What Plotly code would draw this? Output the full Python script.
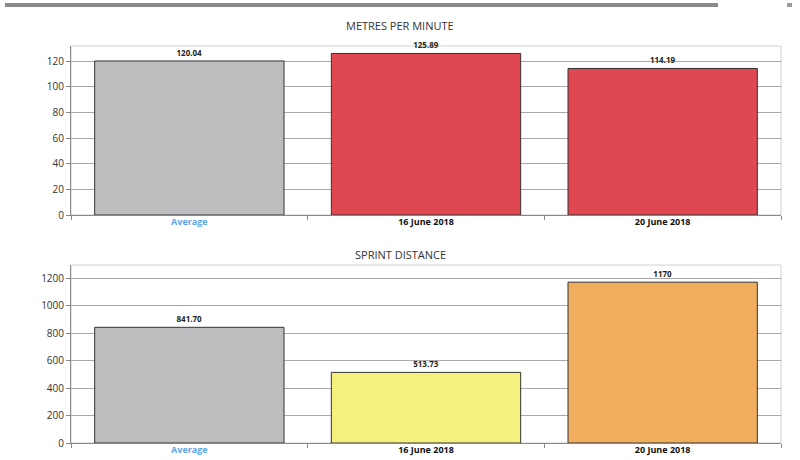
import plotly.graph_objects as go

categories = ["Average", "16 June 2018", "20 June 2018"]
mpm_values = [120.04, 125.89, 114.19]
mpm_labels = ["120.04", "125.89", "114.19"]
mpm_colors = ["#bdbcbf", "#df4850", "#df4850"]
sprint_values = [841.70, 513.73, 1170]
sprint_labels = ["841.70", "513.73", "1170"]
sprint_colors = ["#bdbcbf", "#f6f17f", "#f2ae5f"]
tick_text = ['<b><span style="color:#5aa7e8">Average</span></b>', "<b>16 June 2018</b>", "<b>20 June 2018</b>"]
mpm_ticks = [0, 20, 40, 60, 80, 100, 120]
sprint_ticks = [0, 200, 400, 600, 800, 1000, 1200]

FONT = "Open Sans"
fig = go.Figure()

fig.add_trace(go.Bar(x=categories, y=mpm_values, text=mpm_labels, textposition="outside",
                     marker=dict(color=mpm_colors, line=dict(color="#333", width=1)),
                     textfont=dict(size=8, color="#222", family=FONT, weight="bold"),
                     cliponaxis=False, xaxis="x", yaxis="y", width=0.8))
fig.add_trace(go.Bar(x=categories, y=sprint_values, text=sprint_labels, textposition="outside",
                     marker=dict(color=sprint_colors, line=dict(color="#333", width=1)),
                     textfont=dict(size=8, color="#222", family=FONT, weight="bold"),
                     cliponaxis=False, xaxis="x2", yaxis="y2", width=0.8))

xd = [71 / 800, 781 / 800]
top_dom = [1 - 215 / 460, 1 - 46 / 460]
bot_dom = [1 - 443 / 460, 1 - 265 / 460]

xcommon = dict(type="category", domain=xd, ticks="outside", tickson="boundaries", ticklen=4,
               tickcolor="#888", showline=True, linecolor="#888", linewidth=1,
               tickvals=categories, ticktext=tick_text, automargin=False, ticklabelstandoff=-2,
               tickfont=dict(size=9, color="#111", family=FONT), showgrid=False, fixedrange=True)
ycommon = dict(ticks="outside", ticklen=4, tickcolor="#888", showline=True, linecolor="#888",
               linewidth=1, showgrid=True, gridcolor="#a9a9a9", gridwidth=1, zeroline=False,
               automargin=False,
               tickfont=dict(size=10, color="#333", family=FONT), fixedrange=True)

fig.update_layout(
    width=800, height=460, margin=dict(l=0, r=0, t=0, b=0),
    paper_bgcolor="white", plot_bgcolor="white", showlegend=False, bargap=0.2,
    font=dict(family=FONT),
    xaxis=dict(**xcommon, anchor="y"),
    yaxis=dict(**ycommon, domain=top_dom, range=[0, 131.7], tickvals=mpm_ticks, anchor="x"),
    xaxis2=dict(**xcommon, anchor="y2"),
    yaxis2=dict(**ycommon, domain=bot_dom, range=[0, 1295], tickvals=sprint_ticks, anchor="x2"),
    annotations=[
        dict(text="METRES PER MINUTE", x=400 / 800, y=1 - 25 / 460, xref="paper", yref="paper",
             yanchor="middle", showarrow=False, font=dict(size=11, color="#333", family=FONT)),
        dict(text="SPRINT DISTANCE", x=400 / 800, y=1 - 254 / 460, xref="paper", yref="paper",
             yanchor="middle", showarrow=False, font=dict(size=11, color="#333", family=FONT)),
    ],
    shapes=[
        dict(type="rect", xref="x domain", yref="y domain", x0=0, x1=1, y0=0, y1=1,
             line=dict(color="#d0d0d0", width=1), layer="below"),
        dict(type="rect", xref="x2 domain", yref="y2 domain", x0=0, x1=1, y0=0, y1=1,
             line=dict(color="#d0d0d0", width=1), layer="below"),
        dict(type="rect", xref="paper", yref="paper", x0=5 / 800, x1=718 / 800,
             y0=1 - 7 / 460, y1=1 - 3 / 460, fillcolor="#8a8a8a", line=dict(width=0)),
        dict(type="rect", xref="paper", yref="paper", x0=787 / 800, x1=792 / 800,
             y0=1 - 7 / 460, y1=1 - 3 / 460, fillcolor="#9a9a9a", line=dict(width=0)),
    ],
)

fig.write_html("out.html")
